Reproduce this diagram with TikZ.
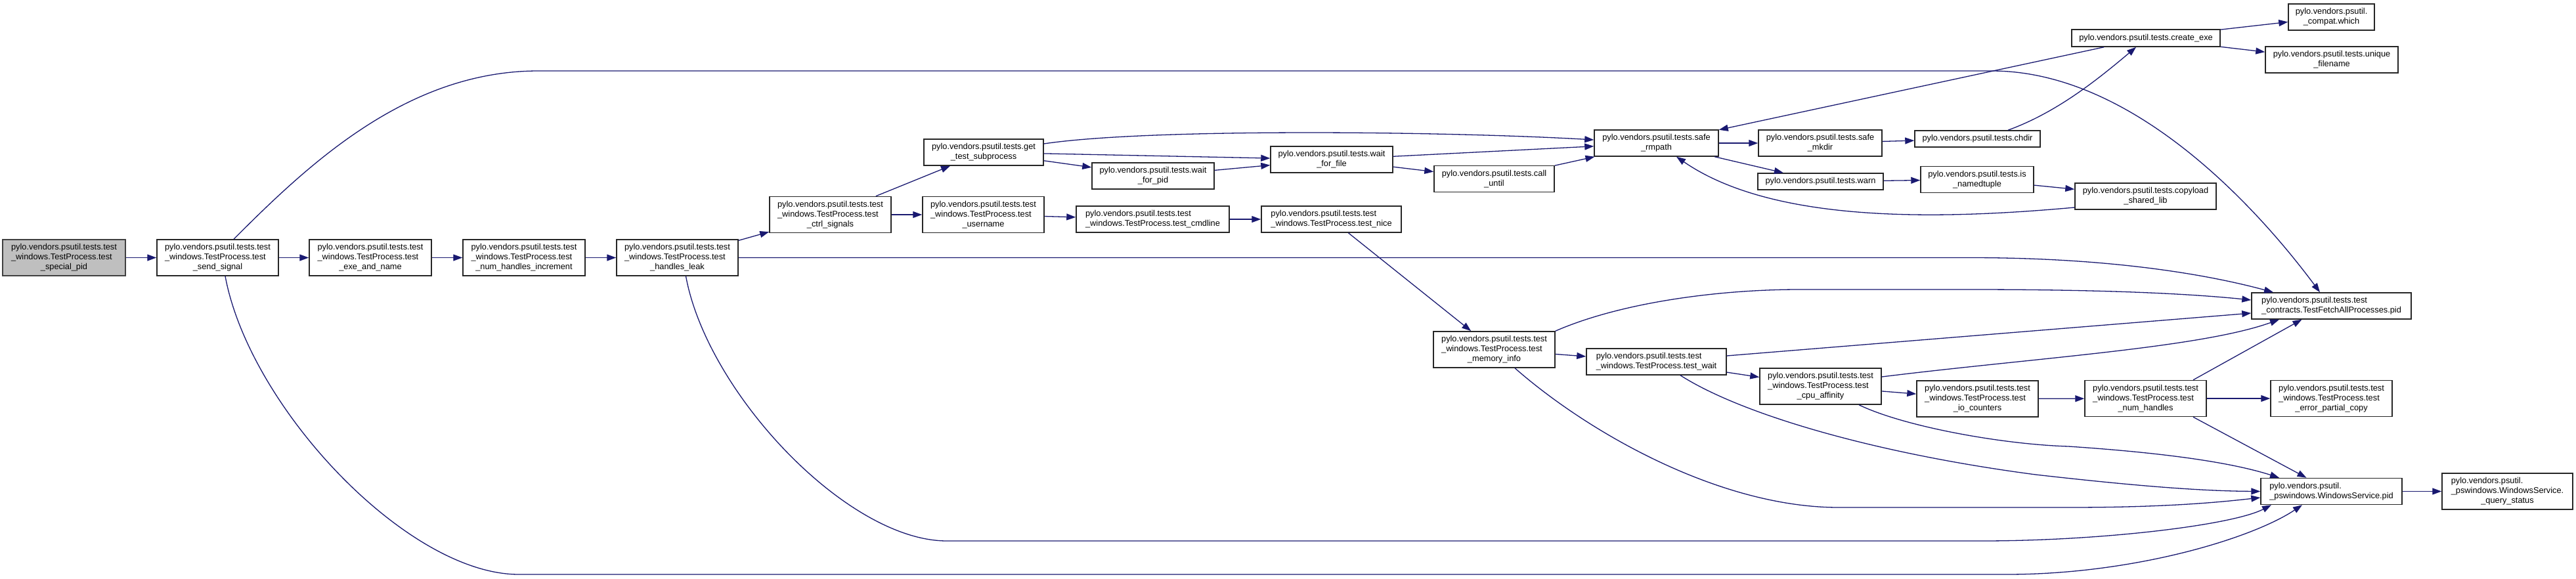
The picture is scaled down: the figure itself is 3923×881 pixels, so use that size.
\documentclass[tikz,border=0pt]{standalone}
\usepackage{fontspec}
\setmainfont{Liberation Sans}
\usetikzlibrary{arrows.meta}
\definecolor{edgec}{HTML}{191970}
\definecolor{rootfill}{HTML}{BFBFBF}
\definecolor{rootdraw}{HTML}{404040}
\newcommand{\labII}[2]{\begin{tabular}{@{}l@{}}#1\\\multicolumn{1}{@{}c@{}}{#2}\end{tabular}}
\newcommand{\labIII}[3]{\begin{tabular}{@{}l@{}}#1\\#2\\\multicolumn{1}{@{}c@{}}{#3}\end{tabular}}
\newcommand{\pvt}{pylo.vendors.psutil.tests.test}
\newcommand{\wtp}{\_windows.TestProcess.test}
\tikzset{
  fn/.style={rectangle, draw=black!85, line width=1.5pt, fill=white, inner sep=0pt,
             font=\fontsize{12.8}{15}\selectfont},
  root/.style={fn, fill=rootfill, draw=rootdraw},
  cl/.style={draw=edgec, line width=1.3pt, -{Triangle[length=14pt,width=10pt]}},
}
\begin{document}
\begin{tikzpicture}[x=1pt,y=-1pt]
\useasboundingbox (0,0) rectangle (3923,881);
% nodes
\node[root, minimum width=187pt, minimum height=55pt] (special) at (97.5,392.5) {\labIII{\pvt}{\wtp}{\_special\_pid}};
\node[fn, minimum width=185pt, minimum height=55pt] (send) at (331.5,392.5) {\labIII{\pvt}{\wtp}{\_send\_signal}};
\node[fn, minimum width=186pt, minimum height=55pt] (exe) at (564,392.5) {\labIII{\pvt}{\wtp}{\_exe\_and\_name}};
\node[fn, minimum width=186pt, minimum height=55pt] (nhi) at (798,392.5) {\labIII{\pvt}{\wtp}{\_num\_handles\_increment}};
\node[fn, minimum width=185pt, minimum height=55pt] (leak) at (1031.5,392.5) {\labIII{\pvt}{\wtp}{\_handles\_leak}};
\node[fn, minimum width=185pt, minimum height=55pt] (ctrl) at (1264.5,327) {\labIII{\pvt}{\wtp}{\_ctrl\_signals}};
\node[fn, minimum width=182pt, minimum height=40pt] (gts) at (1498,232) {\labII{pylo.vendors.psutil.tests.get}{\_test\_subprocess}};
\node[fn, minimum width=185pt, minimum height=55pt] (user) at (1497.5,327) {\labIII{\pvt}{\wtp}{\_username}};
\node[fn, minimum width=186pt, minimum height=40pt] (wpid) at (1756,268) {\labII{pylo.vendors.psutil.tests.wait}{\_for\_pid}};
\node[fn, minimum width=233pt, minimum height=40pt] (cmd) at (1755.5,334) {\labII{\pvt}{\wtp\_cmdline}};
\node[fn, minimum width=186pt, minimum height=40pt] (wfile) at (2028,243) {\labII{pylo.vendors.psutil.tests.wait}{\_for\_file}};
\node[fn, minimum width=213pt, minimum height=40pt] (nice) at (2027.5,334) {\labII{\pvt}{\wtp\_nice}};
\node[fn, minimum width=183pt, minimum height=40pt] (callu) at (2275.5,272.5) {\labII{pylo.vendors.psutil.tests.call}{\_until}};
\node[fn, minimum width=185pt, minimum height=55pt] (mem) at (2275.5,532.5) {\labIII{\pvt}{\wtp}{\_memory\_info}};
\node[fn, minimum width=189pt, minimum height=40pt] (rmpath) at (2522.5,218) {\labII{pylo.vendors.psutil.tests.safe}{\_rmpath}};
\node[fn, minimum width=213pt, minimum height=40pt] (wait) at (2522.5,551) {\labII{\pvt}{\wtp\_wait}};
\node[fn, minimum width=188pt, minimum height=40pt] (mkdir) at (2772,218) {\labII{pylo.vendors.psutil.tests.safe}{\_mkdir}};
\node[fn, minimum width=191pt, minimum height=25pt] (warn) at (2772.5,276.5) {pylo.vendors.psutil.tests.warn};
\node[fn, minimum width=185pt, minimum height=55pt] (cpu) at (2772.5,588.5) {\labIII{\pvt}{\wtp}{\_cpu\_affinity}};
\node[fn, minimum width=191pt, minimum height=25pt] (chdir) at (3011.5,211.5) {pylo.vendors.psutil.tests.chdir};
\node[fn, minimum width=172pt, minimum height=40pt] (isnt) at (3011,273.5) {\labII{pylo.vendors.psutil.tests.is}{\_namedtuple}};
\node[fn, minimum width=185pt, minimum height=55pt] (io) at (3011.5,607.5) {\labIII{\pvt}{\wtp}{\_io\_counters}};
\node[fn, minimum width=226pt, minimum height=26pt] (create) at (3268,58) {pylo.vendors.psutil.tests.create\_exe};
\node[fn, minimum width=215pt, minimum height=40pt] (copyload) at (3267.5,299) {\labII{pylo.vendors.psutil.tests.copyload}{\_shared\_lib}};
\node[fn, minimum width=185pt, minimum height=55pt] (nh) at (3267.5,607) {\labIII{\pvt}{\wtp}{\_num\_handles}};
\node[fn, minimum width=131pt, minimum height=40pt] (which) at (3550.5,26) {\labII{pylo.vendors.psutil.}{\_compat.which}};
\node[fn, minimum width=202pt, minimum height=40pt] (unique) at (3551,91) {\labII{pylo.vendors.psutil.tests.unique}{\_filename}};
\node[fn, minimum width=243pt, minimum height=40pt] (cpid) at (3550.5,466) {\labII{\pvt}{\_contracts.TestFetchAllProcesses.pid}};
\node[fn, minimum width=185pt, minimum height=55pt] (epc) at (3550.5,607) {\labIII{\pvt}{\wtp}{\_error\_partial\_copy}};
\node[fn, minimum width=215pt, minimum height=40pt] (wspid) at (3550.5,748.5) {\labII{pylo.vendors.psutil.}{\_pswindows.WindowsService.pid}};
\node[fn, minimum width=199pt, minimum height=55pt] (qs) at (3818.5,748.5) {\labIII{pylo.vendors.psutil.}{\_pswindows.WindowsService.}{\_query\_status}};
% straight edges
\draw[cl] (special) -- (send);
\draw[cl] (send) -- (exe);
\draw[cl] (exe) -- (nhi);
\draw[cl] (nhi) -- (leak);
\draw[cl] (leak) -- (ctrl);
\draw[cl] (ctrl) -- (gts);
\draw[cl] (ctrl) -- (user);
\draw[cl] (user) -- (cmd);
\draw[cl] (cmd) -- (nice);
\draw[cl] (nice) -- (mem);
\draw[cl] (gts) -- (wfile);
\draw[cl] (gts) -- (wpid);
\draw[cl] (wpid) -- (wfile);
\draw[cl] (wfile) -- (rmpath);
\draw[cl] (wfile) -- (callu);
\draw[cl] (callu) -- (rmpath);
\draw[cl] (rmpath) -- (mkdir);
\draw[cl] (rmpath) -- (warn);
\draw[cl] (mkdir) -- (chdir);
\draw[cl] (warn) -- (isnt);
\draw[cl] (create) -- (rmpath);
\draw[cl] (create) -- (which);
\draw[cl] (create) -- (unique);
\draw[cl] (isnt) -- (copyload);
\draw[cl] (mem) -- (wait);
\draw[cl] (wait) -- (cpu);
\draw[cl] (cpu) -- (io);
\draw[cl] (io) -- (nh);
\draw[cl] (nh) -- (epc);
\draw[cl] (wspid) -- (qs);
\draw[cl] ([xshift=72.5pt]nh.north) -- ([xshift=-45pt]cpid.south);
\draw[cl] ([xshift=72.5pt]nh.south) -- ([xshift=-38pt]wspid.north);
\draw[cl] ([yshift=9pt]wait.east) -- ([yshift=-11pt]cpid.west);
% curved edges
\draw[cl] ([xshift=24.5pt]send.north) .. controls (470,250) and (620,108) .. (820,108) -- (3033,108) .. controls (3250,108) and (3440,320) .. ([xshift=-17.5pt]cpid.north);
\draw[cl] ([xshift=11.5pt]send.south) .. controls (380,620) and (620,875) .. (790,875) -- (3056,875) .. controls (3250,875) and (3430,820) .. ([xshift=-44.5pt]wspid.south);
\draw[cl] (leak.east) -- (3000,392.5) .. controls (3200,392.5) and (3350,415) .. ([xshift=-88.5pt]cpid.north);
\draw[cl] ([xshift=13pt]leak.south) .. controls (1077,598) and (1290,824) .. (1442,824) -- (3018,824) .. controls (3200,824) and (3400,800) .. ([xshift=-91.5pt]wspid.south);
\draw[cl] ([yshift=13pt]gts.east) .. controls (1750,195) and (2200,200) .. ([yshift=5pt]rmpath.west);
\draw[cl] ([xshift=46.5pt]chdir.north) .. controls (3130,172) and (3190,125) .. ([xshift=-15pt]create.south);
\draw[cl] ([yshift=-17pt]copyload.west) .. controls (2950,335) and (2700,340) .. ([xshift=30.5pt]rmpath.south);
\draw[cl] (mem.north east) .. controls (2470,460) and (2620,441) .. (2740,441) -- (3000,441) .. controls (3200,441) and (3330,447) .. ([yshift=9pt]cpid.west);
\draw[cl] ([xshift=31.5pt]mem.south) .. controls (2420,660) and (2620,773) .. (2800,773) -- (3150,773) .. controls (3300,773) and (3380,765) .. ([yshift=-9.5pt]wspid.west);
\draw[cl] ([xshift=36.5pt]wait.south) .. controls (2650,630) and (2850,690) .. (3100,723) .. controls (3250,740) and (3350,748) .. (wspid.west);
\draw[cl] ([yshift=14.5pt]cpu.east) .. controls (3100,545) and (3350,530) .. ([xshift=-79.5pt]cpid.south);
\draw[cl] ([xshift=58.5pt]cpu.south) .. controls (2900,650) and (3050,677) .. (3150,680) .. controls (3300,690) and (3400,705) .. ([xshift=-79.5pt]wspid.north);
\end{tikzpicture}
\end{document}
